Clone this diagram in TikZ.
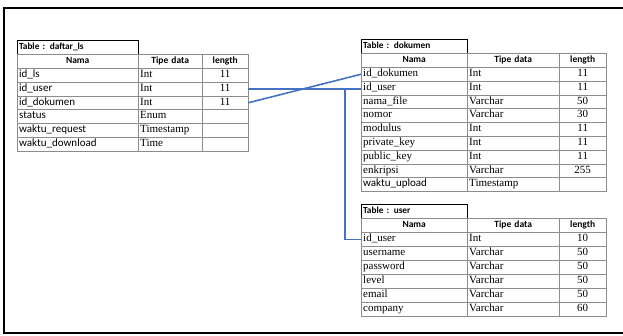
\documentclass[tikz,border=0pt]{standalone}
\usepackage{fontspec}
\setmainfont{Liberation Serif}
\setsansfont{Carlito}
\usetikzlibrary{matrix, positioning}
\definecolor{linkblue}{HTML}{4472C4}
\tikzset{
  tbl/.style={matrix of nodes, nodes in empty cells, draw=black!75, line width=1pt,
    inner sep=0pt, outer sep=0pt, row sep=-0.4pt, column sep=-0.4pt,
    nodes={draw=black!45, line width=0.4pt, minimum height=#1, inner ysep=0pt, inner xsep=2pt,
      text height=7pt, text depth=2.5pt, font=\fontsize{11}{12}\selectfont},
    row 1/.style={nodes={font=\sffamily\bfseries\fontsize{9.5}{11}\selectfont, align=center}}},
  tbl/.default=13.8pt,
  ttl/.style={draw=black, line width=1pt, anchor=north west, outer sep=0pt, minimum height=13.3pt,
    inner ysep=0pt, inner xsep=2pt, text height=6.5pt, text depth=2pt, align=left,
    font=\sffamily\bfseries\fontsize{9.3}{10}\selectfont},
  link/.style={draw=linkblue, line width=1.6pt}
}

\begin{document}
\begin{tikzpicture}[x=1pt, y=1pt]

\path[use as bounding box] (0,0) rectangle (623,-336);
\draw[line width=1.4pt] (4,-8) rectangle (640,-333);

% Table daftar_ls
\node[ttl, text width=117pt] (lst) at (17,-41) {Table : daftar\_ls};
\matrix (ls) [tbl, below=0pt of lst.south west, anchor=north west,
  column 1/.style={nodes={text width=117pt, align=left, font=\sffamily\fontsize{11}{12}\selectfont}},
  column 2/.style={nodes={text width=60pt, align=left}},
  column 3/.style={nodes={text width=42pt, align=center}}] {
  Nama & Tipe data & length \\
  id\_ls & Int & 11 \\
  id\_user & Int & 11 \\
  id\_dokumen & Int & 11 \\
  status & Enum & \\
  waktu\_request & Timestamp & \\
  waktu\_download & Time & \\
};

% Table dokumen
\node[ttl, text width=102pt] (dokt) at (361,-40) {Table : dokumen};
\matrix (dok) [tbl, below=0pt of dokt.south west, anchor=north west,
  column 1/.style={nodes={text width=102pt, align=left}},
  column 2/.style={nodes={text width=88pt, align=left}},
  column 3/.style={nodes={text width=43pt, align=center}}] {
  Nama & Tipe data & length \\
  id\_dokumen & Int & 11 \\
  id\_user & Int & 11 \\
  nama\_file & Varchar & 50 \\
  nomor & Varchar & 30 \\
  modulus & Int & 11 \\
  private\_key & Int & 11 \\
  public\_key & Int & 11 \\
  enkripsi & Varchar & 255 \\
  |[font=\sffamily\fontsize{11}{12}\selectfont]| waktu\_upload & Timestamp & \\
};

% Table user
\node[ttl, text width=102pt] (usrt) at (361,-205) {Table : user};
\matrix (usr) [tbl=14pt, below=0pt of usrt.south west, anchor=north west,
  column 1/.style={nodes={text width=102pt, align=left}},
  column 2/.style={nodes={text width=88pt, align=left}},
  column 3/.style={nodes={text width=43pt, align=center}}] {
  Nama & Tipe data & length \\
  id\_user & Int & 10 \\
  username & Varchar & 50 \\
  password & Varchar & 50 \\
  level & Varchar & 50 \\
  email & Varchar & 50 \\
  company & Varchar & 60 \\
};

% Relations
\draw[link] (ls-3-3.east) -- (dok-3-1.west |- ls-3-3.east);
\draw[link] (ls-4-3.east) -- (dok-2-1.west);
\coordinate[left=16pt of dok-3-1.west |- ls-3-3.east] (jn);
\draw[link] (jn) |- (usr-2-1.west);

\end{tikzpicture}
\end{document}
